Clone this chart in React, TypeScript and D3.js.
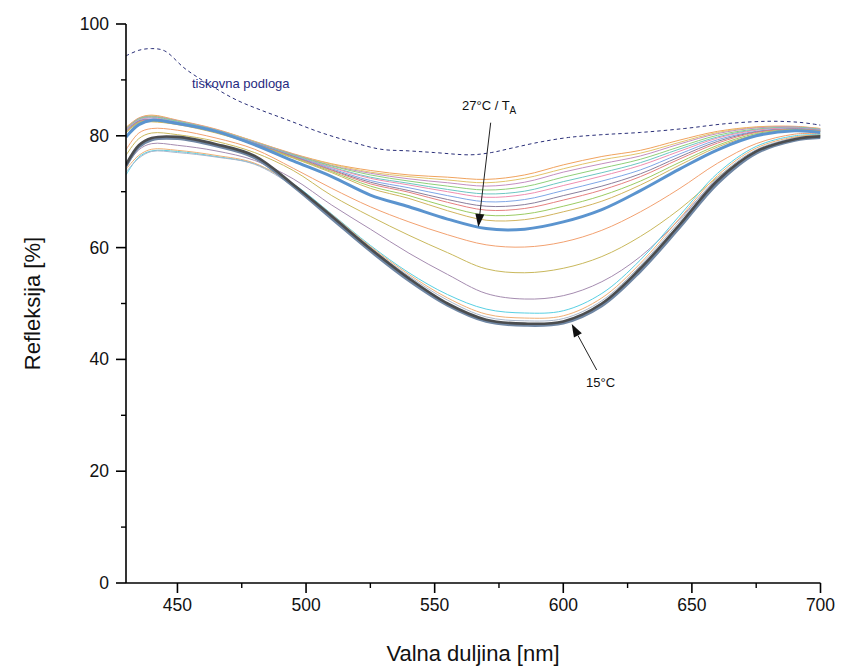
import React from "react";
import * as d3 from "d3";

// Wavelength nodes (nm) at which curve values were read
const wavelengths = [430, 435, 440, 450, 465, 480, 495, 510, 525, 540, 555, 570, 585, 600, 615, 630, 645, 660, 675, 690, 700];

// Hot group (top) curves, top to bottom at 570 nm
const t1 = [81.5, 83.2, 83.7, 82.8, 81.2, 79.0, 76.8, 75.0, 73.8, 73.0, 72.6, 72.2, 73.0, 74.8, 76.3, 77.4, 79.2, 80.8, 81.6, 81.7, 81.3];
const t2 = [81.4, 83.1, 83.6, 82.7, 81.1, 79.0, 76.7, 74.9, 73.5, 72.7, 72.1, 71.6, 72.4, 74.1, 75.7, 76.9, 78.8, 80.6, 81.5, 81.6, 81.3];
const t3 = [81.3, 83.1, 83.5, 82.7, 81.1, 78.9, 76.7, 74.7, 73.3, 72.3, 71.6, 71.0, 71.7, 73.5, 75.0, 76.4, 78.5, 80.4, 81.4, 81.6, 81.2];
const t4 = [81.2, 83.0, 83.4, 82.6, 81.0, 78.8, 76.6, 74.6, 73.0, 71.9, 71.0, 70.3, 70.9, 72.6, 74.2, 75.8, 78.0, 80.1, 81.2, 81.5, 81.1];
const t5 = [81.1, 82.9, 83.3, 82.5, 81.0, 78.8, 76.5, 74.4, 72.6, 71.5, 70.4, 69.6, 70.1, 71.8, 73.4, 75.2, 77.6, 79.8, 81.1, 81.5, 81.1];
const t6 = [81.1, 82.8, 83.2, 82.4, 80.9, 78.7, 76.4, 74.3, 72.4, 71.2, 70.0, 69.0, 69.5, 71.1, 72.8, 74.7, 77.2, 79.6, 81.0, 81.4, 81.0];
const t7 = [81.0, 82.7, 83.0, 82.4, 80.8, 78.7, 76.4, 74.1, 72.0, 70.7, 69.3, 68.2, 68.6, 70.2, 71.9, 73.9, 76.7, 79.3, 80.8, 81.3, 81.0];
const t8 = [80.8, 82.6, 82.9, 82.3, 80.7, 78.6, 76.3, 73.9, 71.7, 70.2, 68.6, 67.4, 67.7, 69.3, 71.0, 73.2, 76.2, 79.0, 80.7, 81.2, 80.9];
const t9 = [80.8, 82.5, 82.8, 82.2, 80.7, 78.6, 76.2, 73.8, 71.4, 69.9, 68.1, 66.7, 67.0, 68.5, 70.3, 72.7, 75.8, 78.7, 80.6, 81.2, 80.9];
const t10 = [80.6, 82.4, 82.6, 82.1, 80.6, 78.5, 76.1, 73.6, 71.0, 69.3, 67.3, 65.8, 66.0, 67.4, 69.3, 71.9, 75.2, 78.3, 80.4, 81.1, 80.8];
const t11 = [80.5, 82.3, 82.5, 82.0, 80.5, 78.4, 76.0, 73.4, 70.6, 68.8, 66.6, 64.9, 65.0, 66.4, 68.3, 71.2, 74.7, 78.0, 80.2, 81.0, 80.7];
// 27°C / T_A (thick blue)
const ta = [79.8, 82.0, 82.8, 82.2, 80.8, 78.4, 75.5, 72.7, 69.4, 67.3, 65.1, 63.4, 63.3, 64.6, 66.8, 70.2, 74.0, 77.5, 80.0, 80.9, 80.6];
// Middle curves
const m1 = [77.5, 80.5, 81.3, 81.0, 79.6, 77.6, 74.2, 70.6, 67.3, 64.6, 62.3, 60.5, 60.1, 61.0, 63.1, 66.4, 70.5, 75.1, 78.6, 80.3, 80.4];
const m2 = [76.5, 79.5, 80.5, 80.2, 79.0, 77.0, 73.8, 69.3, 65.6, 62.2, 59.1, 56.2, 55.5, 56.3, 58.4, 62.0, 66.8, 72.6, 77.2, 79.7, 80.2];
const m3 = [74.5, 77.5, 78.6, 78.3, 77.3, 75.6, 72.3, 67.6, 63.3, 59.0, 55.2, 51.8, 50.8, 51.4, 53.9, 58.4, 65.0, 72.3, 77.2, 79.6, 80.0];
// Low curves
const l1 = [73.0, 76.2, 77.3, 77.2, 76.3, 75.0, 71.4, 66.0, 60.4, 55.5, 51.6, 49.0, 48.3, 48.7, 51.8, 57.8, 65.6, 73.3, 78.1, 80.0, 80.2];
const l2 = [74.0, 76.5, 77.6, 77.4, 76.5, 75.1, 71.2, 65.9, 60.2, 55.2, 51.0, 48.1, 47.4, 47.8, 51.0, 57.2, 65.1, 72.9, 77.8, 79.8, 80.1];
const l3 = [73.5, 76.0, 77.2, 77.0, 76.2, 74.9, 71.0, 65.8, 60.0, 54.9, 50.6, 47.6, 46.9, 47.3, 50.5, 56.8, 64.6, 72.5, 77.5, 79.6, 80.0];
const d2 = [74.6, 78.0, 79.3, 79.5, 78.2, 76.1, 71.0, 65.2, 59.4, 54.1, 49.7, 46.8, 46.1, 46.5, 49.6, 55.8, 63.5, 71.5, 76.9, 79.2, 79.7];
// 15°C (thick dark)
const c15 = [74.8, 78.3, 79.6, 79.8, 78.5, 76.4, 71.3, 65.6, 59.8, 54.5, 50.0, 47.1, 46.4, 46.8, 50.0, 56.3, 64.0, 72.0, 77.2, 79.4, 79.9];

// Printing substrate (dashed)
const substrateNm = [430, 435, 440, 445, 453, 463, 473, 483, 493, 505, 517, 529, 540, 550, 564, 572, 580, 590, 602, 615, 630, 647, 664, 680, 692, 700];
const substrateVal = [94.3, 95.3, 95.6, 95.2, 92.0, 89.0, 86.4, 84.5, 82.8, 80.7, 79.0, 77.6, 77.3, 77.0, 76.6, 77.0, 77.8, 78.8, 79.7, 80.2, 80.6, 81.3, 82.2, 82.6, 82.4, 81.9];

const xTicks = [450, 500, 550, 600, 650, 700];
const xMinor = [475, 525, 575, 625, 675];
const yTicks = [0, 20, 40, 60, 80, 100];
const yMinor = [10, 30, 50, 70, 90];

const series = [
  { v: t1, c: "#f0a35e", w: 1 },
  { v: t2, c: "#e2c46c", w: 1 },
  { v: t3, c: "#c38fc0", w: 1 },
  { v: t4, c: "#8fcf7a", w: 1 },
  { v: t5, c: "#6cc7c2", w: 1 },
  { v: t6, c: "#ef8fb0", w: 1 },
  { v: t7, c: "#7fa6e6", w: 1 },
  { v: t8, c: "#8a7f9c", w: 1 },
  { v: t9, c: "#e58080", w: 1 },
  { v: t10, c: "#9ccb63", w: 1 },
  { v: t11, c: "#d1b45f", w: 1 },
  { v: m1, c: "#f2a170", w: 1 },
  { v: m2, c: "#c9b85c", w: 1 },
  { v: m3, c: "#a58cb0", w: 1 },
  { v: l1, c: "#58d0e3", w: 1 },
  { v: l2, c: "#f0b076", w: 1 },
  { v: l3, c: "#a8b6cc", w: 1 },
  { v: d2, c: "#6f86a3", w: 3 },
  { v: c15, c: "#4b4d4f", w: 2.6 },
  { v: ta, c: "#5b94cf", w: 3 },
];

const FONT = "'Liberation Sans', Arial, sans-serif";

export default function App() {
  const left = 126, right = 820.5, top = 24, bottom = 583;
  const x = d3.scaleLinear().domain([430, 700]).range([left, right]);
  const y = d3.scaleLinear().domain([0, 100]).range([bottom, top]);
  const line = d3
    .line<number>()
    .x((_, i) => x(wavelengths[i]))
    .y((d) => y(d))
    .curve(d3.curveCatmullRom.alpha(0.5));
  const subLine = d3
    .line<number>()
    .x((_, i) => x(substrateNm[i]))
    .y((d) => y(d))
    .curve(d3.curveCatmullRom.alpha(0.5));

  const arrow = (x1: number, y1: number, x2: number, y2: number) => {
    const ang = Math.atan2(y2 - y1, x2 - x1);
    const L = 13, W = 4.5;
    const bx = x2 - L * Math.cos(ang), by = y2 - L * Math.sin(ang);
    const px = -Math.sin(ang) * W, py = Math.cos(ang) * W;
    return (
      <g>
        <line x1={x1} y1={y1} x2={bx} y2={by} stroke="#222" strokeWidth={1} />
        <path d={`M${x2},${y2}L${bx + px},${by + py}L${bx - px},${by - py}Z`} fill="#111" />
      </g>
    );
  };

  return (
    <svg width={843} height={670} style={{ position: "absolute", left: 0, top: 0, background: "#fff" }} fontFamily={FONT}>
      <defs>
        <clipPath id="plot">
          <rect x={left} y={top} width={right - left} height={bottom - top} />
        </clipPath>
      </defs>
      <g clipPath="url(#plot)">
        <path d={subLine(substrateVal) || ""} fill="none" stroke="#2a2f78" strokeWidth={1} strokeDasharray="3.5,3" />
        {series.map((s, i) => (
          <path key={i} d={line(s.v) || ""} fill="none" stroke={s.c} strokeWidth={s.w} strokeLinejoin="round" />
        ))}
      </g>
      {/* axes */}
      <line x1={left} y1={top} x2={left} y2={bottom} stroke="#000" strokeWidth={1.6} />
      <line x1={left} y1={bottom} x2={right} y2={bottom} stroke="#000" strokeWidth={1.6} />
      {xTicks.map((t) => (
        <g key={t}>
          <line x1={x(t)} x2={x(t)} y1={bottom} y2={bottom + 10} stroke="#000" strokeWidth={1.6} />
          <text x={x(t)} y={611} textAnchor="middle" fontSize={17.5} fill="#111">{t}</text>
        </g>
      ))}
      {xMinor.map((t) => (
        <line key={t} x1={x(t)} x2={x(t)} y1={bottom} y2={bottom + 5} stroke="#000" strokeWidth={1.4} />
      ))}
      {yTicks.map((t) => (
        <g key={t}>
          <line x1={left - 10} x2={left} y1={y(t)} y2={y(t)} stroke="#000" strokeWidth={1.6} />
          <text x={109} y={y(t) + 6} textAnchor="end" fontSize={17.5} fill="#111">{t}</text>
        </g>
      ))}
      {yMinor.map((t) => (
        <line key={t} x1={left - 5} x2={left} y1={y(t)} y2={y(t)} stroke="#000" strokeWidth={1.4} />
      ))}
      <text x={473} y={661} textAnchor="middle" fontSize={22} fill="#111">Valna duljina [nm]</text>
      <text transform={`translate(40,${(top + bottom) / 2}) rotate(-90)`} textAnchor="middle" fontSize={22} fill="#111">Refleksija [%]</text>
      {/* annotations */}
      <text x={192} y={88} fontSize={13} fill="#1f2a80">tiskovna podloga</text>
      <text x={462} y={110} fontSize={13} fill="#111">
        27°C / T<tspan fontSize={10} dy={4}>A</tspan>
      </text>
      {arrow(490.7, 122.7, 478.3, 227)}
      {arrow(596.7, 370, 571.7, 324)}
      <text x={586} y={387} fontSize={13} fill="#111">15°C</text>
    </svg>
  );
}
